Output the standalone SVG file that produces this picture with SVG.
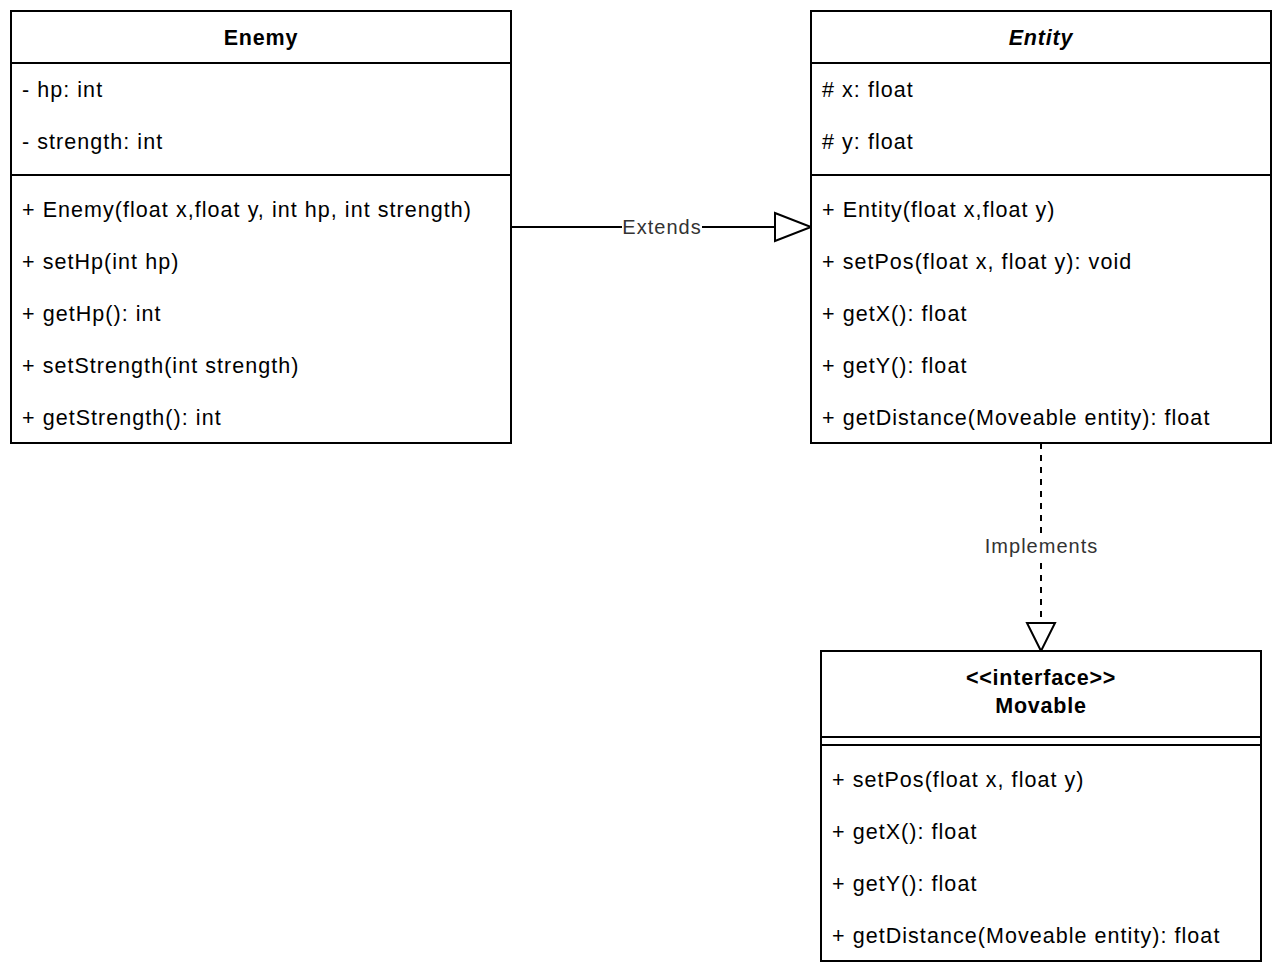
<svg xmlns="http://www.w3.org/2000/svg" width="1284" height="978" viewBox="0 0 1284 978">
<style>
.box{fill:#fff;stroke:#000;stroke-width:2}
.ln{stroke:#000;stroke-width:2;fill:none}
.t{font-family:"Liberation Sans",Arial,sans-serif;font-size:21.5px;letter-spacing:1.05px;fill:#000;dominant-baseline:central}
.h{font-family:"Liberation Sans",Arial,sans-serif;font-size:21.5px;letter-spacing:0.8px;font-weight:bold;fill:#000;text-anchor:middle;dominant-baseline:central}
.lbl{font-family:"Liberation Sans",Arial,sans-serif;font-size:20px;letter-spacing:1px;fill:#333;text-anchor:middle;dominant-baseline:central}
</style>
<rect width="1284" height="978" fill="#fff"/>
<g id="connectors">
  <g id="extends">
    <line class="ln" x1="511" y1="227" x2="775" y2="227"/>
    <polygon class="ln" points="775,213 811,227 775,241" fill="#fff"/>
    <rect x="622" y="214" width="80" height="26" fill="#fff"/>
    <text class="lbl" x="662" y="227">Extends</text>
  </g>
  <g id="implements">
    <line class="ln" x1="1041" y1="443" x2="1041" y2="623" stroke-dasharray="6 6"/>
    <polygon class="ln" points="1027,623 1055,623 1041,651" fill="#fff"/>
    <rect x="983" y="533" width="116" height="26" fill="#fff"/>
    <text class="lbl" x="1041.5" y="546">Implements</text>
  </g>
</g>
<g id="enemy">
  <rect class="box" x="11" y="11" width="500" height="432"/>
  <line class="ln" x1="11" y1="63" x2="511" y2="63"/>
  <line class="ln" x1="11" y1="175" x2="511" y2="175"/>
  <text class="h" x="261" y="38">Enemy</text>
  <text class="t" x="22" y="90">- hp: int</text>
  <text class="t" x="22" y="142">- strength: int</text>
  <text class="t" x="22" y="210">+ Enemy(float x,float y, int hp, int strength)</text>
  <text class="t" x="22" y="262">+ setHp(int hp)</text>
  <text class="t" x="22" y="314">+ getHp(): int</text>
  <text class="t" x="22" y="366">+ setStrength(int strength)</text>
  <text class="t" x="22" y="418">+ getStrength(): int</text>
</g>
<g id="entity">
  <rect class="box" x="811" y="11" width="460" height="432"/>
  <line class="ln" x1="811" y1="63" x2="1271" y2="63"/>
  <line class="ln" x1="811" y1="175" x2="1271" y2="175"/>
  <text class="h" x="1041" y="38" font-style="italic">Entity</text>
  <text class="t" x="822" y="90"># x: float</text>
  <text class="t" x="822" y="142"># y: float</text>
  <text class="t" x="822" y="210">+ Entity(float x,float y)</text>
  <text class="t" x="822" y="262">+ setPos(float x, float y): void</text>
  <text class="t" x="822" y="314">+ getX(): float</text>
  <text class="t" x="822" y="366">+ getY(): float</text>
  <text class="t" x="822" y="418">+ getDistance(Moveable entity): float</text>
</g>
<g id="movable">
  <rect class="box" x="821" y="651" width="440" height="310"/>
  <line class="ln" x1="821" y1="737" x2="1261" y2="737"/>
  <line class="ln" x1="821" y1="745" x2="1261" y2="745"/>
  <text class="h" x="1041" y="678">&lt;&lt;interface&gt;&gt;</text>
  <text class="h" x="1041" y="706">Movable</text>
  <text class="t" x="832" y="780">+ setPos(float x, float y)</text>
  <text class="t" x="832" y="832">+ getX(): float</text>
  <text class="t" x="832" y="884">+ getY(): float</text>
  <text class="t" x="832" y="936">+ getDistance(Moveable entity): float</text>
</g>
</svg>
